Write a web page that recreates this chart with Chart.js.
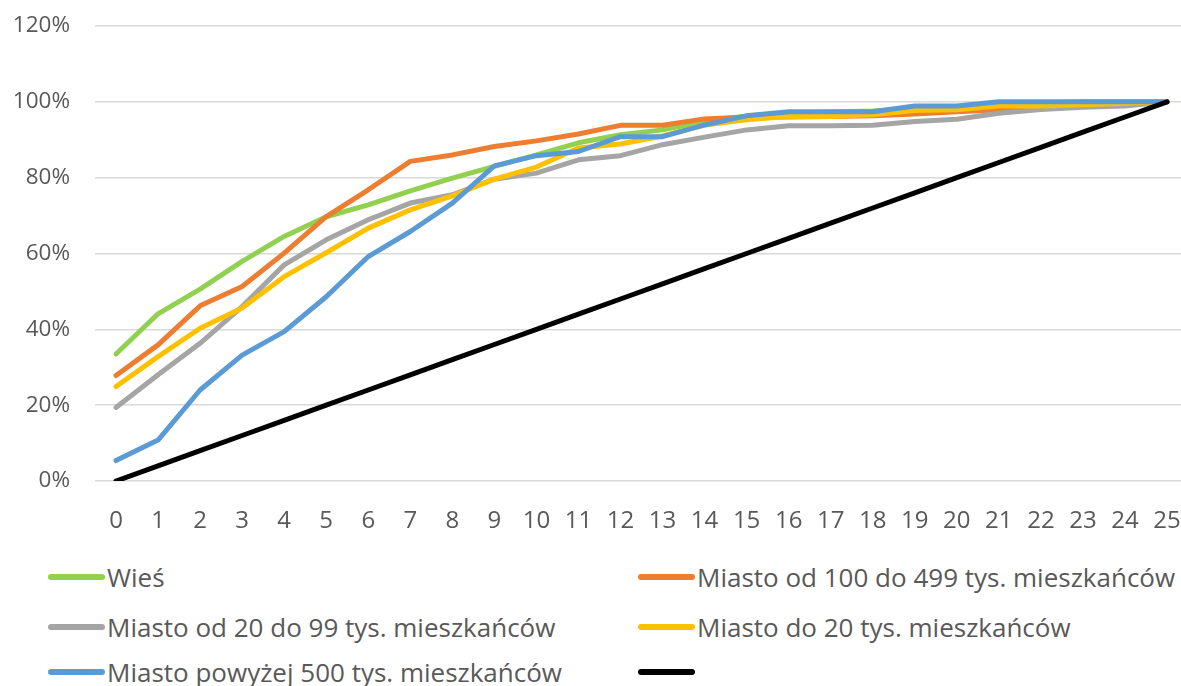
<!DOCTYPE html>
<html>
<head>
<meta charset="utf-8">
<script src="https://cdn.jsdelivr.net/npm/chart.js@4.4.0/dist/chart.umd.min.js"></script>
<style>
    body { margin: 0; background: #fff; }
    #wrap { position: relative; width: 1181px; height: 686px; overflow: hidden; }
    #chart-box { position: absolute; left: 0; top: 0; width: 1181px; height: 550px; }
    .leg { position: absolute; display: flex; align-items: center; font-family: 'Open Sans', sans-serif; font-size: 26px; color: #595959; white-space: nowrap; height: 30px; }
    .leg i { display: inline-block; width: 57px; height: 6px; border-radius: 3px; margin-right: 2px; }
</style>
</head>
<body>
<div id="wrap">
    <div id="chart-box"><canvas id="lorenz-chart"></canvas></div>
    <div id="legend"></div>
</div>
<script>
'use strict';

// os X: 0..25
const xValues = [0, 1, 2, 3, 4, 5, 6, 7, 8, 9, 10, 11, 12, 13, 14, 15, 16, 17, 18, 19, 20, 21, 22, 23, 24, 25];
const yTicks = [0, 20, 40, 60, 80, 100, 120];

const seriesNames = [
    'Wieś',
    'Miasto od 100 do 499 tys. mieszkańców',
    'Miasto od 20 do 99 tys. mieszkańców',
    'Miasto do 20 tys. mieszkańców',
    'Miasto powyżej 500 tys. mieszkańców',
    ''
];
const seriesColors = ['#92d050', '#ed7d31', '#a5a5a5', '#ffc000', '#5b9bd5', '#000000'];

// wartości w %
const wies = [33.5, 44.1, 50.6, 57.9, 64.5, 69.7, 72.8, 76.5, 79.9, 83.0, 86.0, 89.2, 91.3, 92.6, 94.8, 96.3, 97.0, 97.3, 97.6, 98.3, 98.7, 99.5, 99.7, 100, 100, 100];
const miasto100_499 = [27.8, 35.9, 46.2, 51.3, 60.1, 69.7, 76.8, 84.3, 86.0, 88.2, 89.7, 91.5, 93.8, 93.8, 95.5, 96.0, 96.0, 96.1, 96.3, 96.8, 97.4, 97.9, 98.4, 98.9, 99.5, 100];
const miasto20_99 = [19.4, 28.0, 36.3, 46.0, 57.0, 63.6, 68.9, 73.3, 75.5, 79.6, 81.2, 84.7, 85.8, 88.7, 90.7, 92.6, 93.7, 93.7, 93.8, 94.8, 95.4, 97.0, 98.0, 98.6, 98.9, 100];
const miastoDo20 = [24.9, 32.8, 40.3, 45.6, 53.9, 60.2, 66.7, 71.5, 75.2, 79.6, 82.8, 87.8, 88.9, 91.0, 93.9, 95.3, 96.1, 96.1, 96.6, 97.7, 97.9, 98.9, 98.9, 99.2, 99.6, 100];
const miastoPow500 = [5.4, 10.8, 24.0, 33.2, 39.4, 48.6, 59.2, 65.8, 73.3, 83.1, 85.8, 86.9, 90.8, 90.8, 93.9, 96.3, 97.4, 97.4, 97.4, 98.9, 98.9, 100, 100, 100, 100, 100];
const rownomierny = [0, 4, 8, 12, 16, 20, 24, 28, 32, 36, 40, 44, 48, 52, 56, 60, 64, 68, 72, 76, 80, 84, 88, 92, 96, 100];

const seriesValues = [wies, miasto100_499, miasto20_99, miastoDo20, miastoPow500, rownomierny];

const datasets = seriesValues.map((vals, i) => ({
    label: seriesNames[i],
    data: vals.map((v, k) => ({ x: xValues[k], y: v })),
    borderColor: seriesColors[i],
    backgroundColor: seriesColors[i],
    borderWidth: 5,
    borderCapStyle: 'round',
    borderJoinStyle: 'round',
    pointRadius: 0,
    tension: 0,
    order: seriesValues.length - 1 - i   // późniejsze serie na wierzchu, jak w Excelu
}));

new Chart(document.getElementById('lorenz-chart').getContext('2d'), {
    type: 'line',
    data: { datasets },
    options: {
        responsive: true, maintainAspectRatio: false, animation: false,
        layout: { padding: { top: 26, right: 0, bottom: 0, left: 0 } },
        plugins: { legend: { display: false }, tooltip: { enabled: false } },
        scales: {
            x: {
                type: 'linear', min: -0.5, max: 25.333,
                afterBuildTicks: (s) => { s.ticks = xValues.map(v => ({ value: v })); },
                afterFit: (s) => { s.height = 69; s.paddingLeft = 0; s.paddingRight = 0; },
                ticks: { color: '#595959', font: { family: "'Open Sans', sans-serif", size: 24 }, padding: 26, maxRotation: 0, autoSkip: false, callback: (v) => String(v) },
                grid: { display: false, drawTicks: false },
                border: { display: false }
            },
            y: {
                min: 0, max: 120,
                afterBuildTicks: (s) => { s.ticks = yTicks.map(v => ({ value: v })); },
                afterFit: (s) => { s.width = 95; s.paddingTop = 0; s.paddingBottom = 0; },
                ticks: { color: '#595959', font: { family: "'Open Sans', sans-serif", size: 22.5 }, padding: 25, callback: (v) => v + '%' },
                grid: { color: '#d9d9d9', lineWidth: 1.5, drawTicks: false },
                border: { display: false }
            }
        }
    }
});

// legenda w dwóch kolumnach
const legendPos = [[48, 562], [638, 562], [48, 612], [638, 612], [48, 657], [638, 657]];
document.getElementById('legend').innerHTML = seriesNames.map((name, i) =>
    `<div class="leg" style="left:${legendPos[i][0]}px;top:${legendPos[i][1]}px"><i style="background:${seriesColors[i]}"></i><span>${name}</span></div>`
).join('');
</script>
</body>
</html>
